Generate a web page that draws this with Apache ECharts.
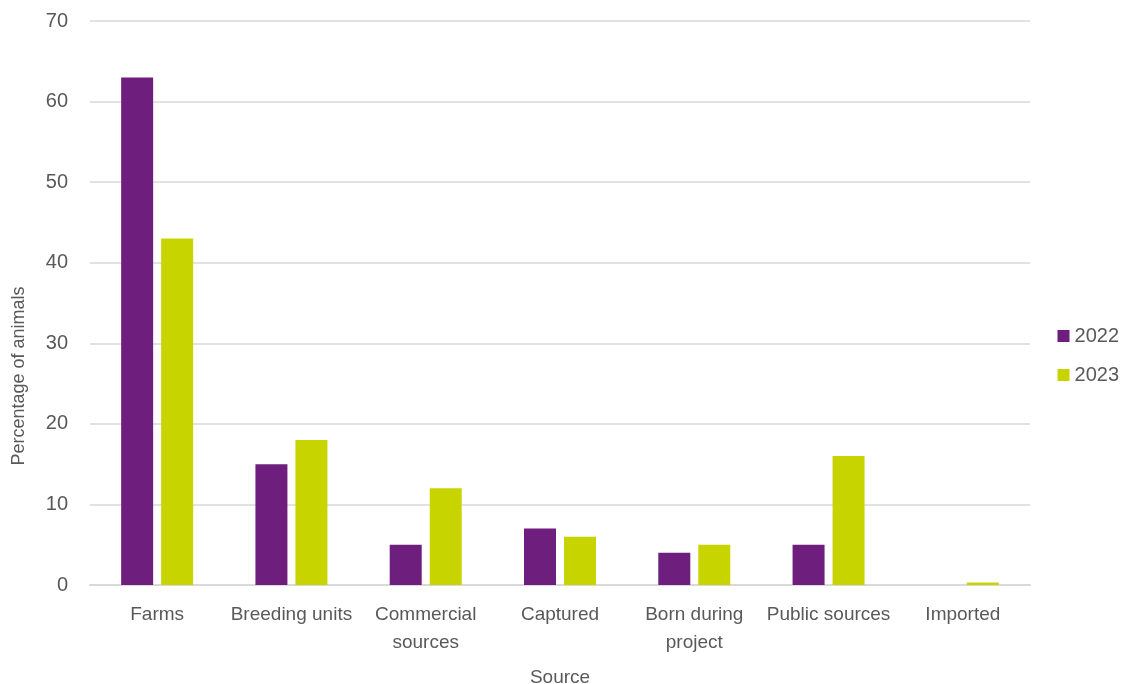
<!DOCTYPE html>
<html><head><meta charset="utf-8">
<script src="https://cdn.jsdelivr.net/npm/echarts@6/dist/echarts.min.js"></script>
<style>html,body{margin:0;padding:0;background:#fff}#c{width:1130px;height:684px}</style>
</head><body><div id="c"></div>
<script>
const categories = ['Farms','Breeding units','Commercial\nsources','Captured','Born during\nproject','Public sources','Imported'];
const values2022 = [63, 15, 5, 7, 4, 5, 0];
const values2023 = [43, 18, 12, 6, 5, 16, 0.3];
const seriesNames = ['2022','2023'];
const FONT = '"Liberation Sans Narrow","Liberation Sans",Arial,sans-serif';
const chart = echarts.init(document.getElementById('c'));
chart.setOption({
  animation:false,
  textStyle:{fontFamily:FONT},
  grid:{left:90,right:100,top:21,bottom:99,outerBoundsMode:'none'},
  legend:{orient:'vertical',right:6,top:321,itemWidth:12,itemHeight:12,itemGap:19,
    icon:'rect',textStyle:{fontSize:20,color:'#595959',fontFamily:FONT},data:seriesNames},
  xAxis:{type:'category',data:categories,name:'Source',nameLocation:'middle',nameGap:83,
    nameTextStyle:{fontSize:19,color:'#595959',fontFamily:FONT},
    axisLine:{lineStyle:{color:'#d9d9d9',width:2}},axisTick:{show:false},
    axisLabel:{fontSize:19,color:'#595959',margin:16,lineHeight:28,interval:0,fontFamily:FONT}},
  yAxis:{type:'value',min:0,max:70,interval:10,name:'Percentage of animals',nameLocation:'middle',nameGap:62,
    nameTextStyle:{fontSize:18,color:'#595959',fontFamily:FONT,padding:[0,146,0,0]},
    axisLine:{show:false},axisTick:{show:false},
    splitLine:{lineStyle:{color:'#d9d9d9',width:1.5}},
    axisLabel:{fontSize:20,color:'#595959',margin:22,fontFamily:FONT}},
  series:[
    {name:seriesNames[0],type:'bar',data:values2022,barWidth:32,barGap:'25%',itemStyle:{color:'#6E1F7E'}},
    {name:seriesNames[1],type:'bar',data:values2023,barWidth:32,barGap:'25%',itemStyle:{color:'#C8D400'}}
  ]
});
</script></body></html>
